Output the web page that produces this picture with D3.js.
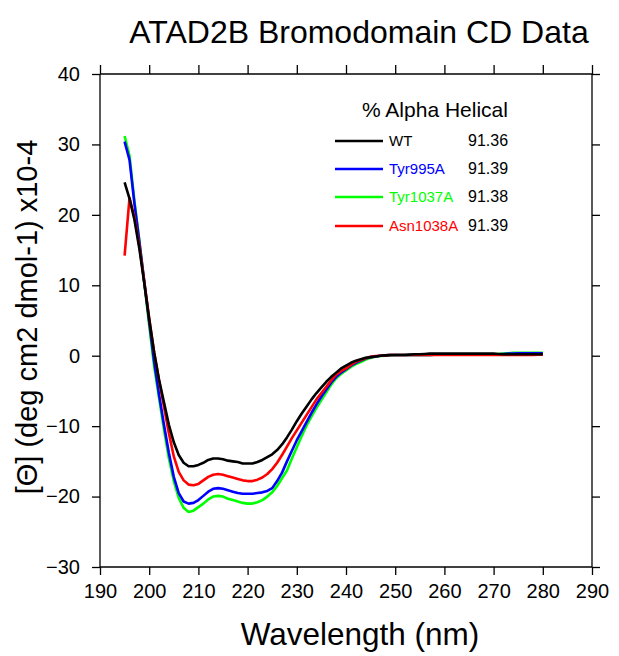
<!DOCTYPE html>
<html>
<head>
<meta charset="utf-8">
<script src="https://cdn.jsdelivr.net/npm/d3@7"></script>
<style>
  html, body { margin: 0; padding: 0; background: #fff; }
  text { font-family: "Liberation Sans", Arial, Helvetica, sans-serif; }
</style>
</head>
<body>
<svg id="chart" width="619" height="656"></svg>
<script>
// ---- data ----
const wavelengths = d3.range(195, 281); // 195..280 nm, 1 nm steps
const wt = [
  24.6, 22.3, 19.3, 15.2, 10.3, 5.2, 0.5, -3.4, -6.6, -9.8,
  -12.3, -14.1, -15.2, -15.7, -15.7, -15.5, -15.2, -14.8, -14.6, -14.6,
  -14.7, -14.9, -15.0, -15.1, -15.3, -15.3, -15.3, -15.1, -14.8, -14.4,
  -14.0, -13.4, -12.6, -11.6, -10.5, -9.3, -8.2, -7.2, -6.2, -5.3,
  -4.5, -3.7, -3.0, -2.4, -1.8, -1.4, -1.0, -0.7, -0.5, -0.3,
  -0.2, -0.1, 0.0, 0.05, 0.1, 0.1, 0.1, 0.1, 0.15, 0.2,
  0.2, 0.25, 0.3, 0.3, 0.3, 0.3, 0.3, 0.3, 0.3, 0.3,
  0.3, 0.3, 0.3, 0.3, 0.3, 0.3, 0.25, 0.2, 0.2, 0.2,
  0.2, 0.2, 0.2, 0.2, 0.2, 0.2
];
const tyr995a = [
  30.4, 27.8, 21.6, 16.2, 10.5, 4.8, -0.8, -5.5, -9.8, -13.8,
  -17.2, -19.5, -20.7, -21.0, -20.9, -20.5, -19.9, -19.3, -18.9, -18.8,
  -18.9, -19.1, -19.3, -19.5, -19.6, -19.6, -19.6, -19.5, -19.4, -19.2,
  -18.8, -17.8, -16.6, -15.0, -13.5, -12.0, -10.7, -9.4, -8.1, -6.9,
  -5.8, -4.8, -3.8, -3.0, -2.4, -1.9, -1.4, -1.0, -0.7, -0.4,
  -0.2, -0.1, 0.0, 0.05, 0.1, 0.1, 0.1, 0.1, 0.1, 0.1,
  0.1, 0.1, 0.1, 0.15, 0.15, 0.15, 0.15, 0.2, 0.2, 0.2,
  0.2, 0.2, 0.2, 0.2, 0.2, 0.2, 0.2, 0.25, 0.3, 0.3,
  0.35, 0.35, 0.35, 0.35, 0.35, 0.35
];
const tyr1037a = [
  31.2, 28.4, 22.0, 16.3, 10.3, 4.3, -1.5, -6.0, -10.5, -14.6,
  -17.8, -20.2, -21.6, -22.2, -22.0, -21.5, -21.0, -20.4, -20.0, -19.9,
  -20.0, -20.3, -20.5, -20.7, -20.9, -21.0, -21.0, -20.8, -20.5, -20.0,
  -19.4, -18.5, -17.4, -16.3, -14.6, -13.0, -11.4, -9.9, -8.6, -7.4,
  -6.3, -5.2, -4.1, -3.2, -2.6, -2.1, -1.6, -1.2, -0.9, -0.55,
  -0.3, -0.15, -0.05, 0.0, 0.05, 0.1, 0.1, 0.1, 0.1, 0.1,
  0.1, 0.1, 0.1, 0.15, 0.15, 0.15, 0.15, 0.2, 0.2, 0.2,
  0.2, 0.2, 0.2, 0.2, 0.2, 0.2, 0.25, 0.3, 0.35, 0.4,
  0.4, 0.4, 0.4, 0.4, 0.4, 0.4
];
const asn1038a = [
  14.2, 22.4, 19.7, 15.6, 10.5, 5.3, 0.5, -3.5, -7.2, -11.0,
  -14.3, -16.5, -17.7, -18.3, -18.4, -18.2, -17.7, -17.2, -16.9, -16.8,
  -16.9, -17.1, -17.3, -17.5, -17.7, -17.8, -17.8, -17.6, -17.3, -16.8,
  -16.1, -15.2, -14.1, -12.9, -11.7, -10.6, -9.5, -8.4, -7.3, -6.2,
  -5.3, -4.4, -3.5, -2.7, -2.2, -1.8, -1.3, -0.85, -0.6, -0.35,
  -0.15, -0.05, 0.0, 0.05, 0.1, 0.1, 0.1, 0.1, 0.1, 0.1,
  0.1, 0.1, 0.1, 0.1, 0.1, 0.1, 0.1, 0.1, 0.1, 0.1,
  0.1, 0.1, 0.1, 0.1, 0.1, 0.1, 0.1, 0.1, 0.1, 0.1,
  0.1, 0.1, 0.1, 0.1, 0.15, 0.15
];
const seriesNames = ["WT", "Tyr995A", "Tyr1037A", "Asn1038A"];
const seriesColors = ["#000000", "#0000ff", "#00ff00", "#ff0000"];
const helicalPercent = ["91.36", "91.39", "91.38", "91.39"];
const xTicks = d3.range(190, 291, 10);
const yTicks = d3.range(-30, 41, 10);
const titleText = "ATAD2B Bromodomain CD Data";
const xLabel = "Wavelength (nm)";
const yLabel = "[\u0398] (deg cm2 dmol-1) x10-4";
const legendTitle = "% Alpha Helical";

const drawOrder = [2, 1, 3, 0];
const allSeries = [wt, tyr995a, tyr1037a, asn1038a];

// ---- layout ----
const mLeft = 100, mRight = 592, mTop = 74, mBottom = 567;
const svg = d3.select("#chart");

const x = d3.scaleLinear().domain([190, 290]).range([mLeft, mRight]);
const y = d3.scaleLinear().domain([-30, 40]).range([mBottom, mTop]);

const fontStack = '"Liberation Sans", Arial, Helvetica, sans-serif';

const axBottom = d3.axisBottom(x).tickValues(xTicks).tickSize(8).tickFormat(d3.format("d"));
const axTop = d3.axisTop(x).tickValues(xTicks).tickSize(9).tickFormat("");
const axLeft = d3.axisLeft(y).tickValues(yTicks).tickSize(8).tickFormat(d3.format("d"));
const axRight = d3.axisRight(y).tickValues(yTicks).tickSize(8).tickFormat("");

function style(g) {
  g.select(".domain").attr("stroke", "#000").attr("stroke-width", 1.3);
  g.selectAll(".tick line").attr("stroke", "#000").attr("stroke-width", 1.3);
  g.selectAll(".tick text").attr("fill", "#000").style("font-family", fontStack).style("font-size", "20px");
}

svg.append("g").attr("transform", `translate(0,${mBottom})`).call(axBottom).call(style)
  .call(g => g.select(".domain").attr("d", `M${mLeft},0H${mRight}`))
  .call(g => g.selectAll(".tick text").attr("dy", "0").attr("y", 31));
svg.append("g").attr("transform", `translate(0,${mTop})`).call(axTop).call(style)
  .call(g => g.select(".domain").attr("d", `M${mLeft},0H${mRight}`));
svg.append("g").attr("transform", `translate(${mLeft},0)`).call(axLeft).call(style)
  .call(g => g.select(".domain").attr("d", `M0,${mTop}V${mBottom}`))
  .call(g => g.selectAll(".tick text").attr("x", -20));
svg.append("g").attr("transform", `translate(${mRight},0)`).call(axRight).call(style)
  .call(g => g.select(".domain").attr("d", `M0,${mTop}V${mBottom}`));

// lines
const line = d3.line().x((d, i) => x(wavelengths[i])).y(d => y(d));
drawOrder.forEach(k => {
  svg.append("path")
    .datum(allSeries[k])
    .attr("fill", "none")
    .attr("stroke", seriesColors[k])
    .attr("stroke-width", 2.6)
    .attr("stroke-linejoin", "round")
    .attr("d", line);
});

// title
svg.append("text").attr("x", 359).attr("y", 43).attr("text-anchor", "middle")
  .style("font-size", "32px").attr("fill", "#000").text(titleText);

// x label
svg.append("text").attr("x", 360).attr("y", 645).attr("text-anchor", "middle")
  .style("font-size", "31.5px").attr("fill", "#000").text(xLabel);

// y label
svg.append("text").attr("transform", "translate(37,317) rotate(-90)").attr("text-anchor", "middle")
  .style("font-size", "29px").attr("fill", "#000").text(yLabel);

// legend
svg.append("text").attr("x", 362).attr("y", 117).style("font-size", "21px").attr("fill", "#000").text(legendTitle);
const legY = [141, 169, 197, 226];
seriesNames.forEach((name, i) => {
  svg.append("line").attr("x1", 335).attr("x2", 383).attr("y1", legY[i]).attr("y2", legY[i])
    .attr("stroke", seriesColors[i]).attr("stroke-width", 2.6);
  svg.append("text").attr("x", 389).attr("y", legY[i] + 5).style("font-size", "15px")
    .attr("fill", seriesColors[i]).text(name);
  svg.append("text").attr("x", 468).attr("y", legY[i] + 5).style("font-size", "16px")
    .attr("fill", "#000").text(helicalPercent[i]);
});
</script>
</body>
</html>
